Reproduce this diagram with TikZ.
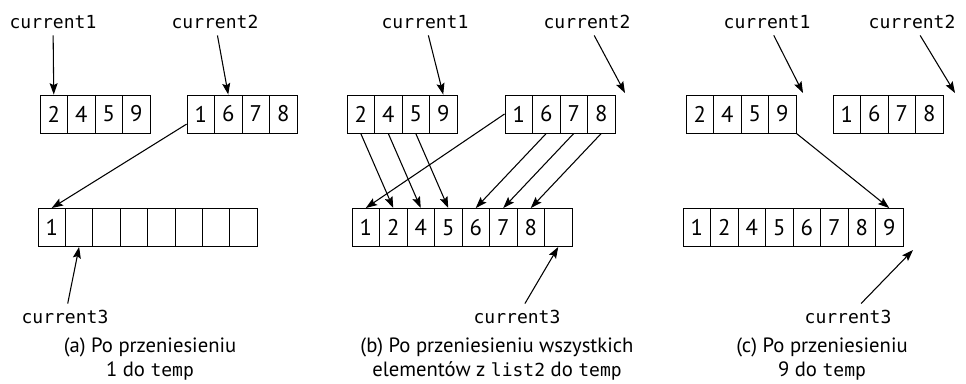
\documentclass[tikz,border=0pt]{standalone}
\usepackage{fontspec}
\setmainfont{PT Sans}
\newfontfamily\codefont{DejaVu Sans Mono}
\usetikzlibrary{arrows.meta}

\tikzset{
  cell/.style={draw, line width=0.7pt, minimum width=20.6pt, minimum height=28.5pt,
    inner sep=0pt, font=\fontsize{17}{18}\selectfont},
  ptr/.style={font=\codefont\fontsize{13.5}{16}\selectfont, inner sep=0pt, outer sep=5pt},
  capt/.style={font=\fontsize{15.5}{18}\selectfont, align=center, inner sep=0pt},
  move/.style={->, line width=0.8pt},
}

\begin{document}
\begin{tikzpicture}[x=0.75pt,y=-0.75pt,>={Stealth[length=8.5pt,width=6pt,inset=1.5pt]}]
  \useasboundingbox (0,0) rectangle (966,384);

  % (a) po przeniesieniu 1
  \foreach \v [count=\i] in {2,4,5,9}
    \node[cell] (a1\i) at (26.25+27.5*\i,114) {\v};
  \foreach \v [count=\i] in {1,6,7,8}
    \node[cell] (a2\i) at (173.25+27.5*\i,114) {\v};
  \foreach \v [count=\i] in {1,{},{},{},{},{},{},{}}
    \node[cell] (a3\i) at (24.3+27.4*\i,227.5) {\v};
  \node[ptr] (a-c1) at (53,22) {current1};
  \node[ptr] (a-c2) at (215,22) {current2};
  \node[ptr] (a-c3) at (65,317) {current3};
  \draw[move] (a-c1) -- (a11.north);
  \draw[move] (a-c2) -- (a22.north);
  \draw[move] ([yshift=7pt]a21.south west) -- (a31.north);
  \draw[move] (a-c3) -- (a32.south);
  \node[capt] (a-cap) at (150,359.5) {(a) Po przeniesieniu\\1 do {\codefont\fontsize{13.5}{16}\selectfont temp}};

  % (b) po przeniesieniu list2
  \foreach \v [count=\i] in {2,4,5,9}
    \node[cell] (b1\i) at (333.25+27.5*\i,114) {\v};
  \foreach \v [count=\i] in {1,6,7,8}
    \node[cell] (b2\i) at (491.25+27.5*\i,114) {\v};
  \foreach \v [count=\i] in {1,2,4,5,6,7,8,{}}
    \node[cell] (b3\i) at (338.25+27.5*\i,227.5) {\v};
  \node[ptr] (b-c1) at (425,22) {current1};
  \node[ptr] (b-c2) at (587,22) {current2};
  \node[ptr] (b-c3) at (517,317) {current3};
  \coordinate (b-end2) at (625,93);
  \draw[move] (b-c1) -- (b14.north);
  \draw[move] (b-c2) -- (b-end2);
  \draw[move] (b11.south) -- (b32.north);
  \draw[move] (b12.south) -- (b33.north);
  \draw[move] (b13.south) -- (b34.north);
  \draw[move] (b21.west) -- (b31.north);
  \draw[move] (b22.south) -- (b35.north);
  \draw[move] (b23.south) -- (b36.north);
  \draw[move] (b24.south) -- (b37.north);
  \draw[move] (b-c3) -- (b38.south);
  \node[capt] (b-cap) at (497,359.5) {(b) Po przeniesieniu wszystkich\\elementów z {\codefont\fontsize{13.5}{16}\selectfont list2} do {\codefont\fontsize{13.5}{16}\selectfont temp}};

  % (c) po przeniesieniu 9
  \foreach \v [count=\i] in {2,4,5,9}
    \node[cell] (c1\i) at (672.25+27.5*\i,114) {\v};
  \foreach \v [count=\i] in {1,6,7,8}
    \node[cell] (c2\i) at (819.25+27.5*\i,114) {\v};
  \foreach \v [count=\i] in {1,2,4,5,6,7,8,9}
    \node[cell] (c3\i) at (669.25+27.5*\i,227.5) {\v};
  \node[ptr] (c-c1) at (767,22) {current1};
  \node[ptr] (c-c2) at (912,22) {current2};
  \node[ptr] (c-c3) at (848,317) {current3};
  \coordinate (c-end1) at (803,93);
  \coordinate (c-end2) at (955,93);
  \coordinate (c-end3) at (913,250);
  \draw[move] (c-c1) -- (c-end1);
  \draw[move] (c-c2) -- (c-end2);
  \draw[move] (c14.south east) -- (c38.north);
  \draw[move] (c-c3) -- (c-end3);
  \node[capt] (c-cap) at (822,359.5) {(c) Po przeniesieniu\\9 do {\codefont\fontsize{13.5}{16}\selectfont temp}};
\end{tikzpicture}
\end{document}
